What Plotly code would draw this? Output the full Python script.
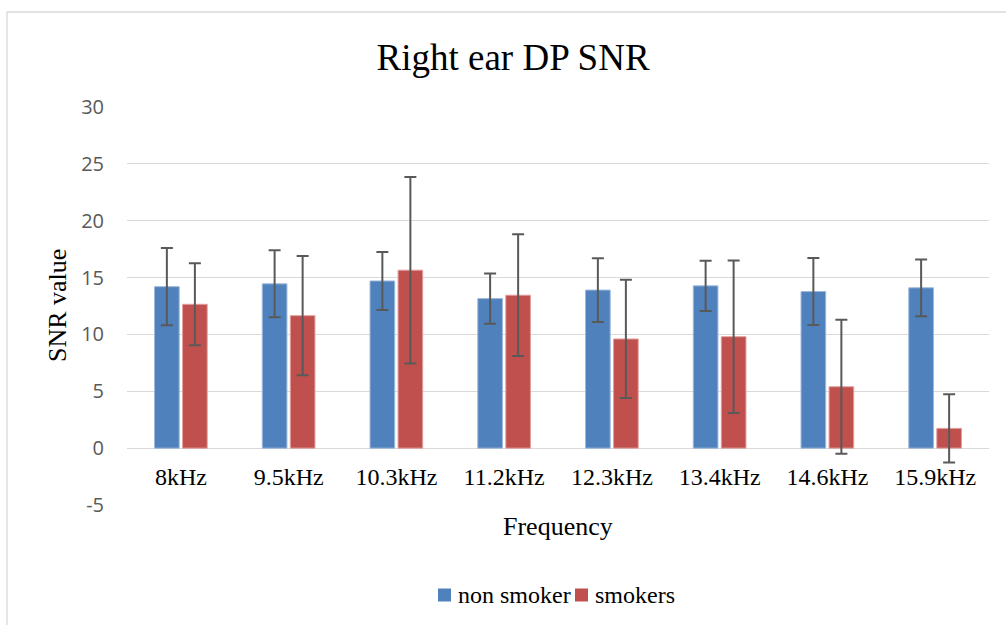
import plotly.graph_objects as go

categories = ["8kHz", "9.5kHz", "10.3kHz", "11.2kHz", "12.3kHz", "13.4kHz", "14.6kHz", "15.9kHz"]
non_smoker = [14.2, 14.45, 14.7, 13.15, 13.9, 14.27, 13.77, 14.1]
non_smoker_err = [3.4, 2.95, 2.55, 2.2, 2.8, 2.2, 2.95, 2.5]
smokers = [12.65, 11.65, 15.65, 13.45, 9.6, 9.8, 5.4, 1.74]
smokers_err = [3.6, 5.25, 8.2, 5.35, 5.2, 6.7, 5.9, 3.0]
y_ticks = [-5, 0, 5, 10, 15, 20, 25, 30]
y_tick_text = ["-5", "0", "5", "10", "15", "20", "25", "30"]
series_names = ["non smoker", "smokers"]
series_colors = ["#4F81BD", "#C0504D"]
series_edges = ["#9DB7DA", "#E0A09E"]

W, H = 1006, 625
L, R, T, B = 127, 17, 107, 120
PW, PH = W - L - R, H - T - B
y_min, y_max = -5, 30

def py(px_y):
    return (H - B - px_y) / PH

def pxx(px_x):
    return (px_x - L) / PW

serif = "Liberation Serif"
err_style = dict(type="data", visible=True, color="#595959", thickness=2, width=6)

fig = go.Figure()
for name, vals, errs, col, edge in zip(series_names, [non_smoker, smokers],
                                       [non_smoker_err, smokers_err],
                                       series_colors, series_edges):
    fig.add_trace(go.Bar(
        name=name, x=categories, y=vals,
        error_y=dict(array=errs, **err_style),
        marker=dict(color=col, line=dict(color=edge, width=1)),
    ))

zero_pos = (0 - y_min) / (y_max - y_min)

# custom legend (square + label), matching the reference spacing
legend_items = [(438, 456), (575, 593)]
legend_shapes, legend_annots = [], []
for (sq_x, tx_x), name, col in zip(legend_items, series_names, series_colors):
    legend_shapes.append(dict(type="rect", xref="paper", yref="paper",
                              x0=pxx(sq_x), x1=pxx(sq_x + 13), y0=py(601.5), y1=py(588.5),
                              line=dict(width=0), fillcolor=col))
    legend_annots.append(dict(text=name, xref="paper", yref="paper", x=pxx(tx_x), y=py(595),
                              xanchor="left", yanchor="middle", showarrow=False,
                              font=dict(family=serif, size=24, color="black")))

fig.update_layout(
    width=W, height=H,
    font=dict(family=serif, color="black"),
    margin=dict(l=L, r=R, t=T, b=B, autoexpand=False),
    paper_bgcolor="white", plot_bgcolor="white",
    barmode="group", bargap=0.48, bargroupgap=0.12,
    showlegend=False,
    title=dict(text="Right ear DP SNR", x=0.51, xref="container", xanchor="center",
               y=1 - 57 / H, yref="container", yanchor="middle",
               font=dict(family=serif, size=37, color="black")),
    xaxis=dict(anchor="free", position=zero_pos, showline=False, showgrid=False,
               ticks="", ticklabelstandoff=12,
               tickfont=dict(family=serif, size=24, color="black")),
    yaxis=dict(range=[y_min, y_max], tickvals=y_ticks, ticktext=y_tick_text, showgrid=True,
               gridcolor="#D9D9D9", gridwidth=1.3, zeroline=True,
               zerolinecolor="#D9D9D9", zerolinewidth=1.3, showline=False,
               ticks="", ticklabelstandoff=22,
               tickfont=dict(family="Open Sans", size=20, color="#595959")),
    annotations=[
        dict(text="Frequency", xref="paper", yref="paper", x=pxx(558), y=py(526),
             xanchor="center", yanchor="middle", showarrow=False,
             font=dict(family=serif, size=26, color="black")),
        dict(text="SNR value", xref="paper", yref="paper", x=pxx(57), y=py(306),
             xanchor="center", yanchor="middle", showarrow=False, textangle=-90,
             font=dict(family=serif, size=26, color="black")),
    ] + legend_annots,
    shapes=[
        dict(type="rect", xref="paper", yref="paper",
             x0=pxx(7), x1=pxx(W + 10), y0=py(H + 10), y1=py(12),
             line=dict(color="#D9D9D9", width=1.3), fillcolor="rgba(0,0,0,0)", layer="below"),
    ] + legend_shapes,
)

fig.write_html("out.html", config={"displayModeBar": False},
               post_script="document.body.style.margin='0';document.body.style.overflow='hidden';")
